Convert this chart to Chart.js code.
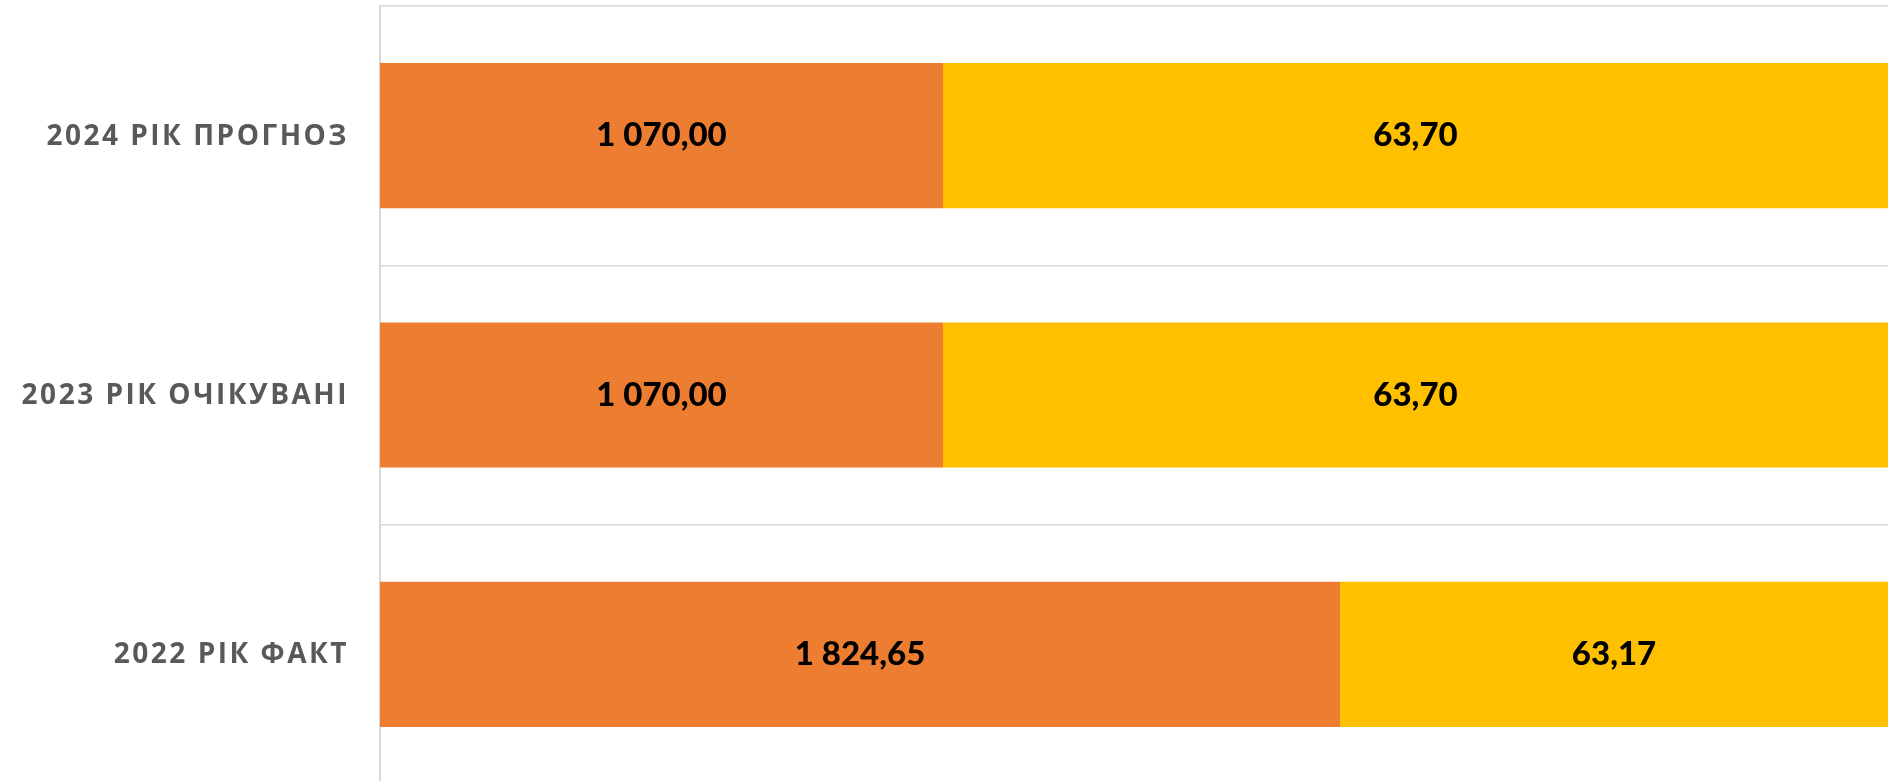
<!DOCTYPE html>
<html>
<head>
<meta charset="utf-8">
<script src="https://cdn.jsdelivr.net/npm/chart.js@4"></script>
<style>
  html, body { margin: 0; padding: 0; overflow: hidden; background: #fff; }
  #wrap { width: 1888px; height: 790px; position: relative; }
</style>
</head>
<body>
<div id="wrap"><canvas id="barChart"></canvas></div>
<script>
// categories bottom-to-top, as in the source sheet
const categories = ['2022 РІК ФАКТ', '2023 РІК ОЧІКУВАНІ', '2024 РІК ПРОГНОЗ'];
const orangeValues = [1824.65, 1070.00, 1070.00];
const yellowValues = [63.17, 63.70, 63.70];
const X_MAX = 2866;   // visible end of the value axis, the yellow part runs to the edge

const fmt = v => v.toFixed(2).replace('.', ',').replace(/\B(?=(\d{3})+(?!\d))/g, ' ');

const labelPlugin = {
    id: 'labels',
    afterDraw(chart) {
        const ctx = chart.ctx;
        const yScale = chart.scales.y;
        const area = chart.chartArea;
        ctx.save();
        // category labels
        ctx.font = 'bold 28px "Open Sans"';
        ctx.fillStyle = '#595959';
        ctx.textAlign = 'right';
        ctx.textBaseline = 'middle';
        ctx.letterSpacing = '2.5px';
        categories.forEach((c, i) => {
            ctx.fillText(c, area.left - 31, yScale.getPixelForValue(i) + 1);
        });
        // value labels
        ctx.letterSpacing = '0px';
        ctx.font = '900 33px Lato';
        ctx.fillStyle = '#000';
        ctx.textAlign = 'center';
        chart.data.datasets.forEach((ds, di) => {
            const meta = chart.getDatasetMeta(di);
            meta.data.forEach((bar, i) => {
                const left = Math.max(Math.min(bar.x, bar.base), area.left);
                const right = Math.min(Math.max(bar.x, bar.base), area.right);
                const txt = di === 0 ? fmt(orangeValues[i]) : fmt(yellowValues[i]);
                ctx.fillText(txt, (left + right) / 2, bar.y);
            });
        });
        ctx.restore();
    }
};

new Chart(document.getElementById('barChart').getContext('2d'), {
    type: 'bar',
    data: {
        labels: categories,
        datasets: [
            { data: orangeValues, backgroundColor: '#ED7D31', barPercentage: 0.56, categoryPercentage: 1 },
            { data: orangeValues.map(v => X_MAX - v), backgroundColor: '#FFC000', barPercentage: 0.56, categoryPercentage: 1 }
        ]
    },
    options: {
        indexAxis: 'y',
        responsive: true, maintainAspectRatio: false,
        animation: false,
        layout: { padding: { left: 380, top: 6, bottom: 6, right: 0 } },
        plugins: { legend: { display: false }, tooltip: { enabled: false } },
        scales: {
            x: { stacked: true, min: 0, max: X_MAX, display: false },
            y: {
                stacked: true, reverse: true,
                ticks: { display: false },
                grid: { color: '#d9d9d9', lineWidth: 1.5, drawTicks: false, offset: true },
                border: { color: '#d9d9d9', width: 2 }
            }
        }
    },
    plugins: [labelPlugin]
});
</script>
</body>
</html>
